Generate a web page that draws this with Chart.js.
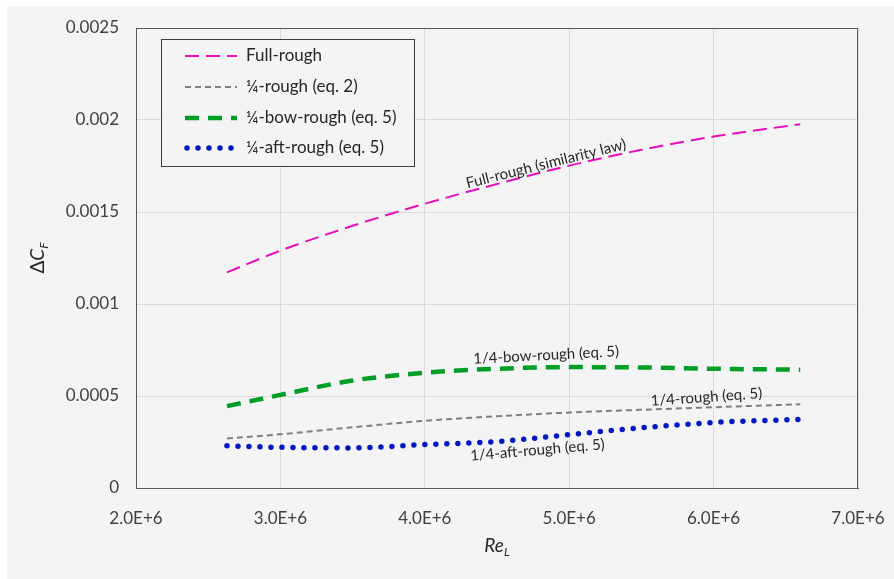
<!DOCTYPE html>
<html>
<head>
<meta charset="utf-8">
<script src="https://cdn.jsdelivr.net/npm/chart.js@4.4.1/dist/chart.umd.min.js"></script>
<style>
  html, body { margin: 0; padding: 0; background: #ffffff; }
  #wrap { width: 894px; height: 579px; }
</style>
</head>
<body>
<div id="wrap"><canvas id="myChart" width="894" height="579"></canvas></div>
<script>
// data
const reL = [2.63e6, 3.0e6, 3.5e6, 4.0e6, 4.5e6, 5.0e6, 5.5e6, 6.0e6, 6.6e6];
const fullRough = [0.001172, 0.001290, 0.001425, 0.001545, 0.001652, 0.001752, 0.001838, 0.001910, 0.001977];
const quarterRough = [0.000269, 0.000292, 0.000330, 0.000365, 0.000390, 0.000410, 0.000425, 0.000439, 0.000455];
const bowRough = [0.000445, 0.000506, 0.000584, 0.000626, 0.000648, 0.000657, 0.000655, 0.000648, 0.000643];
const aftRough = [0.000229, 0.000221, 0.000218, 0.000236, 0.000252, 0.000290, 0.000327, 0.000356, 0.000373];

const legendNames = ['Full-rough', '\u00BC-rough (eq. 2)', '\u00BC-bow-rough (eq. 5)', '\u00BC-aft-rough (eq. 5)'];
const xTicks = [2e6, 3e6, 4e6, 5e6, 6e6, 7e6];

// in-plot notes: [text, x, y, angle in degrees]
const notes = [
  ['Full-rough (similarity law)', 4.84e6, 0.001762, -14],
  ['1/4-bow-rough (eq. 5)', 4.84e6, 0.000722, -3],
  ['1/4-rough (eq. 5)', 5.95e6, 0.000494, -4],
  ['1/4-aft-rough (eq. 5)', 4.78e6, 0.000206, -5]
];

const FONT = 'Lato, "Open Sans", sans-serif';

function pts(ys) {
  return reL.map((x, i) => ({ x: x, y: ys[i] }));
}

// background, frame, notes, legend and axis titles
const decor = {
  id: 'decor',
  beforeDraw(chart) {
    const c = chart.ctx;
    c.save();
    c.fillStyle = '#ffffff';
    c.fillRect(0, 0, chart.width, chart.height);
    c.fillStyle = '#f4f4f4';
    c.fillRect(7, 6, chart.width - 7, chart.height - 6);
    c.restore();
  },
  afterDraw(chart) {
    const c = chart.ctx;
    const a = chart.chartArea;
    const xs = chart.scales.x, ys = chart.scales.y;
    c.save();
    // plot frame
    c.strokeStyle = '#595959';
    c.lineWidth = 1;
    c.strokeRect(a.left + 0.5, a.top + 0.5, a.right - a.left - 1, a.bottom - a.top);

    // notes
    c.fillStyle = '#262626';
    c.font = '15px ' + FONT;
    c.textAlign = 'center';
    c.textBaseline = 'middle';
    notes.forEach(n => {
      c.save();
      c.translate(xs.getPixelForValue(n[1]), ys.getPixelForValue(n[2]));
      c.rotate(n[3] * Math.PI / 180);
      c.fillText(n[0], 0, 0);
      c.restore();
    });

    // legend
    const lx = 161, ly = 39, lw = 253, lh = 127;
    c.fillStyle = '#f4f4f4';
    c.fillRect(lx, ly, lw, lh);
    c.strokeStyle = '#404040';
    c.strokeRect(lx + 0.5, ly + 0.5, lw, lh);
    const rows = [56, 87, 118, 148];
    chart.data.datasets.forEach((ds, i) => {
      const y = rows[i];
      c.save();
      c.strokeStyle = ds.borderColor;
      c.lineWidth = ds.borderWidth;
      c.setLineDash(ds.borderDash);
      c.lineCap = ds.borderCapStyle || 'butt';
      c.beginPath();
      c.moveTo(i === 3 ? 187 : 185, y);
      c.lineTo(237, y);
      c.stroke();
      c.restore();
      c.fillStyle = '#262626';
      c.font = '17px ' + FONT;
      c.textAlign = 'left';
      c.fillText(legendNames[i], 246, y);
    });

    // axis titles
    c.fillStyle = '#262626';
    c.textBaseline = 'alphabetic';
    // Re_L
    const cx = (a.left + a.right) / 2;
    c.font = 'italic 19px ' + FONT;
    const w1 = c.measureText('Re').width;
    c.font = 'italic 12px ' + FONT;
    const w2 = c.measureText('L').width;
    let sx = cx - (w1 + w2) / 2;
    c.textAlign = 'left';
    c.font = 'italic 19px ' + FONT;
    c.fillText('Re', sx, 552);
    c.font = 'italic 12px ' + FONT;
    c.fillText('L', sx + w1, 556);
    // ΔC_F
    c.save();
    c.translate(44, (a.top + a.bottom) / 2);
    c.rotate(-Math.PI / 2);
    c.font = '19px ' + FONT;
    const d1 = c.measureText('\u0394').width;
    c.font = 'italic 19px ' + FONT;
    const d2 = c.measureText('C').width;
    c.font = 'italic 12px ' + FONT;
    const d3 = c.measureText('F').width;
    sx = -(d1 + d2 + d3) / 2;
    c.font = '19px ' + FONT;
    c.fillText('\u0394', sx, 0);
    c.font = 'italic 19px ' + FONT;
    c.fillText('C', sx + d1, 0);
    c.font = 'italic 12px ' + FONT;
    c.fillText('F', sx + d1 + d2, 4);
    c.restore();
    c.restore();
  }
};

const ctx = document.getElementById('myChart');

new Chart(ctx, {
  type: 'scatter',
  data: {
    datasets: [{
      label: legendNames[0],
      data: pts(fullRough),
      showLine: true,
      borderColor: '#e60fbe',
      borderWidth: 2,
      borderDash: [14, 7],
      pointRadius: 0,
      cubicInterpolationMode: 'monotone'
    }, {
      label: legendNames[1],
      data: pts(quarterRough),
      showLine: true,
      borderColor: '#7f7f7f',
      borderWidth: 2,
      borderDash: [6, 4],
      pointRadius: 0,
      cubicInterpolationMode: 'monotone'
    }, {
      label: legendNames[2],
      data: pts(bowRough),
      showLine: true,
      borderColor: '#009e25',
      borderWidth: 4.5,
      borderDash: [14, 9],
      pointRadius: 0,
      cubicInterpolationMode: 'monotone'
    }, {
      label: legendNames[3],
      data: pts(aftRough),
      showLine: true,
      borderColor: '#0019c2',
      borderWidth: 5.5,
      borderDash: [0, 11],
      borderCapStyle: 'round',
      pointRadius: 0,
      cubicInterpolationMode: 'monotone'
    }]
  },
  options: {
    responsive: false,
    animation: false,
    layout: { padding: { left: 0, right: 36, top: 28, bottom: 0 } },
    plugins: {
      legend: { display: false },
      tooltip: { enabled: false }
    },
    scales: {
      x: {
        type: 'linear',
        min: 2e6,
        max: 7e6,
        afterFit(scale) {
          scale.height = 91;
          scale.paddingLeft = 0;
          scale.paddingRight = 0;
        },
        afterBuildTicks(scale) { scale.ticks = xTicks.map(v => ({ value: v })); },
        grid: { color: '#d9d9d9', drawTicks: false },
        border: { color: '#595959' },
        ticks: {
          padding: 20,
          maxRotation: 0,
          color: '#404040',
          font: { family: FONT, size: 17 },
          callback: v => (v / 1e6).toFixed(1) + 'E+6'
        }
      },
      y: {
        min: 0,
        max: 0.0025,
        afterFit(scale) {
          scale.width = 136;
          scale.paddingTop = 0;
          scale.paddingBottom = 0;
        },
        grid: { color: '#d9d9d9', drawTicks: false },
        border: { color: '#595959' },
        ticks: {
          stepSize: 0.0005,
          padding: 17,
          color: '#404040',
          font: { family: FONT, size: 17 },
          callback: v => String(Number(v.toFixed(4)))
        }
      }
    }
  },
  plugins: [decor]
});
</script>
</body>
</html>
